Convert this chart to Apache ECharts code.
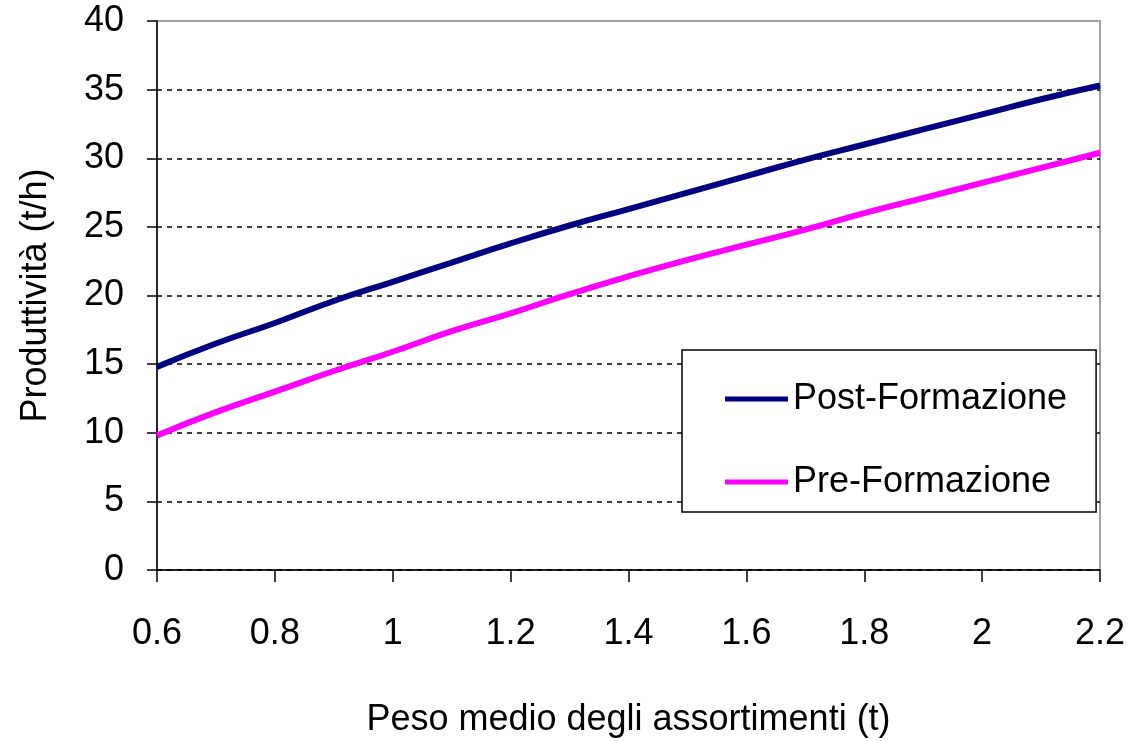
<!DOCTYPE html>
<html>
<head>
<meta charset="utf-8">
<script src="https://cdn.jsdelivr.net/npm/echarts@6/dist/echarts.min.js"></script>
<style>
  html, body { margin: 0; padding: 0; background: #fff; }
  #chart { width: 1132px; height: 741px; }
</style>
</head>
<body>
<div id="chart"></div>
<script>
  // peso medio (t)
  var weights = [0.6, 0.7, 0.8, 0.9, 1.0, 1.1, 1.2, 1.3, 1.4, 1.5, 1.6, 1.7, 1.8, 1.9, 2.0, 2.1, 2.2];
  // produttività (t/h)
  var postFormazione = [14.8, 16.5, 18.0, 19.6, 21.0, 22.4, 23.8, 25.1, 26.3, 27.5, 28.7, 29.9, 31.0, 32.1, 33.2, 34.3, 35.3];
  var preFormazione = [9.8, 11.5, 13.0, 14.5, 15.9, 17.4, 18.7, 20.1, 21.4, 22.6, 23.7, 24.8, 26.0, 27.1, 28.2, 29.3, 30.4];

  function pairs(xs, ys) {
    return xs.map(function (x, i) { return [x, ys[i]]; });
  }

  var font = 'Liberation Sans, Arial, sans-serif';
  var chart = echarts.init(document.getElementById('chart'));
  var option = {
    backgroundColor: '#fff',
    animation: false,
    grid: {
      left: 157,
      right: 32,
      top: 21,
      bottom: 171,
      outerBoundsMode: 'none',
      containLabel: false,
      show: true,
      borderColor: '#a0a0a0',
      borderWidth: 2,
      backgroundColor: 'transparent'
    },
    legend: {
      orient: 'vertical',
      left: 682,
      top: 350,
      backgroundColor: '#fff',
      borderColor: '#000',
      borderWidth: 1.5,
      padding: [31, 29, 12, 43],
      itemGap: 47,
      itemWidth: 63,
      itemHeight: 5,
      icon: 'rect',
      textStyle: { fontFamily: font, fontSize: 36, color: '#000' },
      data: ['Post-Formazione', 'Pre-Formazione']
    },
    xAxis: {
      type: 'value',
      min: 0.6,
      max: 2.2,
      interval: 0.2,
      name: 'Peso medio degli assortimenti (t)',
      nameLocation: 'middle',
      nameGap: 132,
      nameTextStyle: { fontFamily: font, fontSize: 36, color: '#000' },
      axisLine: { show: true, lineStyle: { color: '#000', width: 1.5 } },
      axisTick: { show: true, length: 12, lineStyle: { color: '#000', width: 1.5 } },
      axisLabel: {
        fontFamily: font, fontSize: 36, color: '#000', margin: 46,
        formatter: function (v) { return String(Math.round(v * 10) / 10); }
      },
      splitLine: { show: false }
    },
    yAxis: {
      type: 'value',
      min: 0,
      max: 40,
      interval: 5,
      name: 'Produttività (t/h)',
      nameLocation: 'middle',
      nameGap: 103,
      nameTextStyle: { fontFamily: font, fontSize: 36, color: '#000' },
      axisLine: { show: true, lineStyle: { color: '#000', width: 1.5 } },
      axisTick: { show: true, length: 10, lineStyle: { color: '#000', width: 1.5 } },
      axisLabel: { fontFamily: font, fontSize: 36, color: '#000', margin: 33 },
      splitLine: {
        show: true,
        showMaxLine: false,
        lineStyle: { color: '#000', type: [5, 5], width: 1.5 }
      }
    },
    series: [
      {
        name: 'Post-Formazione',
        type: 'line',
        showSymbol: false,
        smooth: true,
        color: '#000080',
        lineStyle: { color: '#000080', width: 6 },
        data: pairs(weights, postFormazione)
      },
      {
        name: 'Pre-Formazione',
        type: 'line',
        showSymbol: false,
        smooth: true,
        color: '#ff00ff',
        lineStyle: { color: '#ff00ff', width: 6 },
        data: pairs(weights, preFormazione)
      }
    ]
  };
  chart.setOption(option);
</script>
</body>
</html>
